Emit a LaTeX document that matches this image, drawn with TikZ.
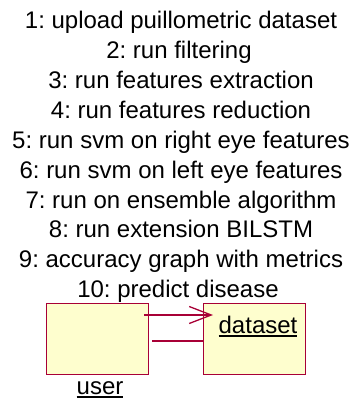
\documentclass[tikz,border=0pt]{standalone}
\usepackage{fontspec}
\setmainfont{Liberation Sans}
\usetikzlibrary{arrows.meta}
\definecolor{umlred}{HTML}{A80036}
\definecolor{umlfill}{HTML}{FEFECE}
\newcommand\myul[1]{\leavevmode\vtop{\hbox{#1}\kern2pt\hrule height 1.6pt}}
\frenchspacing
\begin{document}
\begin{tikzpicture}[x=1pt,y=-1pt,
  msg/.style={anchor=base,inner sep=0pt,font=\fontsize{24}{29}\selectfont\frenchspacing,text=black},
  actor/.style={draw=umlred,fill=umlfill,line width=1.4pt,minimum width=102pt,minimum height=71pt,inner sep=0pt,anchor=north west},
  lbl/.style={anchor=base,inner sep=0pt,font=\fontsize{24}{29}\selectfont},
  link/.style={draw=umlred,line width=1.3pt}]
\useasboundingbox (0,0) rectangle (355,401);
\node[msg] (m1) at (181,29) {1: upload puillometric dataset};
\node[msg] (m2) at (179,59) {2: run filtering};
\node[msg] (m3) at (181,89) {3: run features extraction};
\node[msg] (m4) at (181,118) {4: run features reduction};
\node[msg] (m5) at (181,148) {5: run svm on right eye features};
\node[msg] (m6) at (181,178) {6: run svm on left eye features};
\node[msg] (m7) at (181,208) {7: run on ensemble algorithm};
\node[msg] (m8) at (181,237) {8: run extension BILSTM};
\node[msg] (m9) at (181,267) {9: accuracy graph with metrics};
\node[msg] (m10) at (178,297) {10: predict disease};
\node[actor] (user) at (46,303) {};
\node[actor] (dataset) at (203,303) {};
\node[lbl] (dslbl) at (258,333) {\myul{dataset}};
\node[lbl] (userlbl) at (100,394) {\myul{user}};
\coordinate (a1) at ([xshift=-5pt,yshift=-12pt]user.north east);
\coordinate (a2) at ([xshift=10pt,yshift=-12pt]dataset.north west);
\coordinate (b1) at ([xshift=3pt,yshift=-38pt]user.north east);
\coordinate (b2) at ([yshift=-38pt]dataset.north west);
\draw[link,-{Straight Barb[length=22pt,width=17pt,line width=1.3pt]}] (a1) -- (a2);
\draw[link] (b1) -- (b2);
\end{tikzpicture}
\end{document}
